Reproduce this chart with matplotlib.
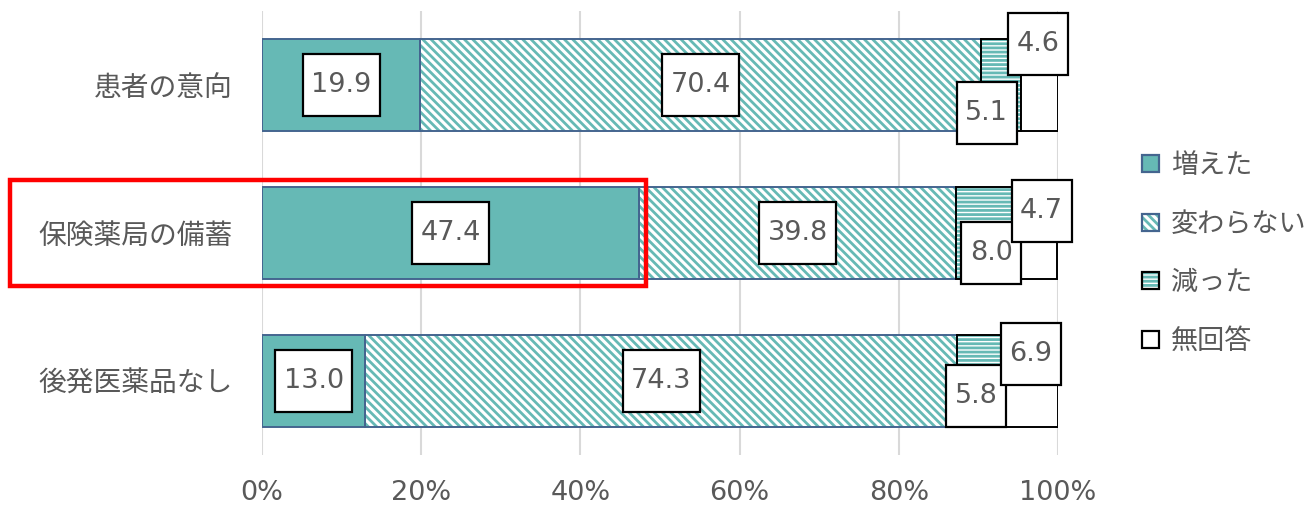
import matplotlib.pyplot as plt
import numpy as np
from matplotlib.patches import Patch, Rectangle
from matplotlib.path import Path
from matplotlib.legend_handler import HandlerTuple

plt.rcParams['font.family'] = ['DejaVu Sans', 'Noto Sans CJK JP']
plt.rcParams['hatch.linewidth'] = 2.0

categories = ["患者の意向", "保険薬局の備蓄", "後発医薬品なし"]
series_names = ["増えた", "変わらない", "減った", "無回答"]
increased = [19.9, 47.4, 13.0]
unchanged = [70.4, 39.8, 74.3]
decreased = [5.1, 8.0, 5.8]
no_answer = [4.6, 4.7, 6.9]
xticks = [0, 20, 40, 60, 80, 100]

TEAL = "#66b9b5"
NAVY = "#44658f"
GRAY = "#595959"

# fill, hatch, outline
styles = [
    (TEAL, None, NAVY),
    ("white", "\\\\\\\\", NAVY),
    ("white", "----", "black"),
    ("white", None, "black"),
]

# label nudges for the two small segments (x in %, y in row units)
small_dx = [(-1.8, -0.2), (0.4, 0.4), (-0.5, 0.0)]
small_dy = [(0.19, -0.28), (0.135, -0.15), (0.10, -0.18)]


def label_box(x0, y0, width, height, mutation_size):
    # fixed-height box with a narrow side margin
    padx = 8.5
    cy = y0 + height / 2
    half = 31
    left, right = x0 - padx, x0 + width + padx
    verts = [(left, cy - half), (right, cy - half), (right, cy + half),
             (left, cy + half), (left, cy - half)]
    return Path(verts, [Path.MOVETO, Path.LINETO, Path.LINETO,
                        Path.LINETO, Path.CLOSEPOLY])


fig = plt.figure(figsize=(13.12, 5.07), dpi=100)
ax = fig.add_axes([262 / 1312, 1 - 455 / 507, 796 / 1312, 444 / 507])

data = np.array([increased, unchanged, decreased, no_answer])
y = np.arange(len(categories))
h = 0.62
left = np.zeros(len(categories))
for i, (vals, (fc, hatch, ec)) in enumerate(zip(data, styles)):
    if hatch:
        ax.barh(y, vals, h, left=left, color=fc, edgecolor=TEAL,
                hatch=hatch, linewidth=0, zorder=2)
        ax.barh(y, vals, h, left=left, color="none", edgecolor=ec,
                linewidth=1.4, zorder=3)
    else:
        ax.barh(y, vals, h, left=left, color=fc, edgecolor=ec,
                linewidth=1.4, zorder=3)
    for j, v in enumerate(vals):
        cx = left[j] + v / 2
        cy = y[j]
        if i >= 2:
            cx += small_dx[j][i - 2]
            cy += small_dy[j][i - 2]
        ax.text(cx, cy, f"{v:.1f}", ha="center", va="center",
                fontsize=19.5, color=GRAY, zorder=6 + i,
                bbox=dict(boxstyle=label_box, facecolor="white",
                          edgecolor="black", linewidth=1.6))
    left += vals

ax.set_xlim(0, 100)
ax.set_ylim(2.5, -0.5)
ax.set_xticks(xticks)
ax.set_xticklabels([f"{t}%" for t in xticks])
ax.set_yticks(y)
ax.set_yticklabels(categories)
ax.tick_params(axis="both", length=0, labelsize=19.5, labelcolor=GRAY)
ax.tick_params(axis="x", pad=18)
ax.tick_params(axis="y", pad=21, labelsize=20)
ax.grid(axis="x", color="#d9d9d9", linewidth=1.5, zorder=0)
ax.set_axisbelow(True)
for s in ax.spines.values():
    s.set_visible(False)

# legend
handles = []
for fc, hatch, ec in styles:
    if hatch:
        handles.append((Patch(facecolor=fc, edgecolor=TEAL, hatch=hatch, linewidth=0),
                        Patch(facecolor="none", edgecolor=ec, linewidth=1.6)))
    else:
        handles.append(Patch(facecolor=fc, edgecolor=ec, linewidth=1.6))
leg = fig.legend(handles, series_names, loc="center left",
                 bbox_to_anchor=(1118 / 1312, 1 - 254 / 507), frameon=False,
                 fontsize=19.5, labelcolor=GRAY, handlelength=0.6,
                 handleheight=0.6, handletextpad=0.45, labelspacing=1.2,
                 handler_map={tuple: HandlerTuple(ndivide=1)})

# highlight the stockpile row
fig.canvas.draw()
row = 1
x_right, y_top = ax.transData.transform((increased[row] + 0.8, row - h / 2 - 0.05))
_, y_bot = ax.transData.transform((0, row + h / 2 + 0.05))
fig.add_artist(Rectangle((10, y_bot), x_right - 10, y_top - y_bot,
                         transform=None, fill=False, edgecolor="#ff0000",
                         linewidth=3.2, zorder=10))

fig.savefig("out.png", dpi=100)
